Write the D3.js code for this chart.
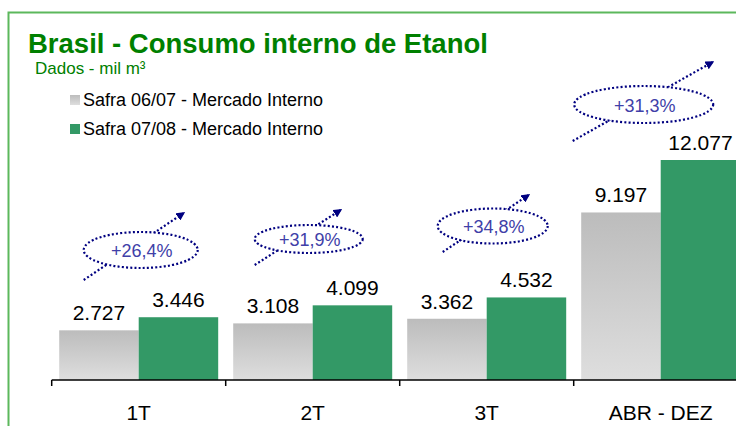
<!DOCTYPE html>
<html><head><meta charset="utf-8">
<script src="https://cdn.jsdelivr.net/npm/d3@7"></script>
<style>body{margin:0;background:#fff}svg{display:block;font-family:Arial,"Liberation Sans",sans-serif}</style>
</head><body><svg id="c" width="736" height="426"></svg>
<script>
const categories = ["1T", "2T", "3T", "ABR - DEZ"];
const seriesNames = ["Safra 06/07 - Mercado Interno", "Safra 07/08 - Mercado Interno"];
const safra0607 = [2727, 3108, 3362, 9197];
const safra0708 = [3446, 4099, 4532, 12077];
const growthLabels = ["+26,4%", "+31,9%", "+34,8%", "+31,3%"];
const fmt = v => d3.format(",")(v).replace(/,/g, ".");

const svg = d3.select("#c");
const defs = svg.append("defs");
const g1 = defs.append("linearGradient").attr("id","gray").attr("x1",0).attr("y1",0).attr("x2",0).attr("y2",1);
g1.append("stop").attr("offset","0%").attr("stop-color","#bcbcbc");
g1.append("stop").attr("offset","100%").attr("stop-color","#dedede");
defs.append("marker").attr("id","arr").attr("viewBox","0 0 10 10").attr("refX",8).attr("refY",5)
  .attr("markerWidth",4).attr("markerHeight",4).attr("orient","auto").attr("markerUnits","strokeWidth")
  .append("path").attr("d","M0,0L10,5L0,10z").attr("fill","#000080");

// frame
svg.append("path").attr("d","M8.5,426V12.5H736").attr("fill","none").attr("stroke","#5cb85c").attr("stroke-width",2);

const x = d3.scaleBand().domain(categories).range([51.7, 51.7 + 174 * 4]).paddingInner(0).paddingOuter(0);
const y = d3.scaleLinear().domain([0, 12077]).range([380, 160]);
const inner = 7.5;
const bw = (x.bandwidth() - 2 * inner) / 2;

// bars
const cat = svg.selectAll("g.cat").data(categories).join("g").attr("class","cat");
cat.append("rect").attr("x", d => x(d) + inner).attr("width", bw)
  .attr("y", (d,i) => y(safra0607[i])).attr("height", (d,i) => y(0) - y(safra0607[i])).attr("fill","url(#gray)");
cat.append("rect").attr("x", d => x(d) + inner + bw).attr("width", bw)
  .attr("y", (d,i) => y(safra0708[i])).attr("height", (d,i) => y(0) - y(safra0708[i])).attr("fill","#339966");
cat.append("text").attr("x", d => x(d) + inner + bw/2).attr("y", (d,i) => y(safra0607[i]) - 10)
  .attr("text-anchor","middle").attr("font-size",21).attr("fill","#000").text((d,i) => fmt(safra0607[i]));
cat.append("text").attr("x", d => x(d) + inner + bw*1.5).attr("y", (d,i) => y(safra0708[i]) - 10)
  .attr("text-anchor","middle").attr("font-size",21).attr("fill","#000").text((d,i) => fmt(safra0708[i]));

// axis
const ax = svg.append("g").attr("transform","translate(0,380)");
ax.append("line").attr("x1", 51.7).attr("x2", 736).attr("stroke","#000").attr("stroke-width",1.5);
ax.selectAll("line.tk").data(d3.range(categories.length + 1)).join("line").attr("class","tk")
  .attr("x1", i => 51.7 + i * x.bandwidth()).attr("x2", i => 51.7 + i * x.bandwidth())
  .attr("y1",0).attr("y2",6).attr("stroke","#000").attr("stroke-width",1.5);
ax.selectAll("text").data(categories).join("text").attr("x", d => x(d) + x.bandwidth()/2).attr("y", 40)
  .attr("text-anchor","middle").attr("font-size",21).attr("fill","#000").text(d => d);

// annotations (ellipse geometry per category, relative to category center)
const ann = [
  {dx: 2, cy: 250, rx: 57, ry: 18, x1: -55, y1: 280, x2: 45, y2: 213},
  {dx: -4, cy: 239, rx: 54, ry: 14, x1: -58, y1: 265, x2: 28, y2: 210},
  {dx: 6, cy: 226, rx: 55, ry: 17.5, x1: -44, y1: 252, x2: 42, y2: 195},
  {dx: -17, cy: 104.5, rx: 69.5, ry: 18.5, x1: -88, y1: 141, x2: 52, y2: 62}
];
const an = svg.selectAll("g.ann").data(categories).join("g").attr("class","ann");
an.append("line").attr("x1",(d,i)=>x(d)+x.bandwidth()/2+ann[i].x1).attr("y1",(d,i)=>ann[i].y1)
  .attr("x2",(d,i)=>x(d)+x.bandwidth()/2+ann[i].x2).attr("y2",(d,i)=>ann[i].y2)
  .attr("stroke","#000080").attr("stroke-width",2.2).attr("stroke-dasharray","2 2.2").attr("marker-end","url(#arr)");
an.append("ellipse").attr("cx",(d,i)=>x(d)+x.bandwidth()/2+ann[i].dx).attr("cy",(d,i)=>ann[i].cy)
  .attr("rx",(d,i)=>ann[i].rx).attr("ry",(d,i)=>ann[i].ry)
  .attr("fill","#fff").attr("stroke","#000080").attr("stroke-width",2.2).attr("stroke-dasharray","2 2.2");
an.append("text").attr("x",(d,i)=>x(d)+x.bandwidth()/2+ann[i].dx+1).attr("y",(d,i)=>ann[i].cy+7)
  .attr("text-anchor","middle").attr("font-size",18).attr("fill","#4040a8").text((d,i)=>growthLabels[i]);

// titles
svg.append("text").attr("x",28).attr("y",52.5).attr("font-size",27.5).attr("font-weight","bold")
  .attr("fill","#008000").text("Brasil - Consumo interno de Etanol");
svg.append("text").attr("x",35).attr("y",74).attr("font-size",17)
  .attr("fill","#008000").text("Dados - mil m³");

// legend
const colors = ["url(#gray)", "#339966"];
const lg = svg.selectAll("g.lg").data(seriesNames).join("g").attr("class","lg")
  .attr("transform",(d,i)=>`translate(70,${95 + i*29})`);
lg.append("rect").attr("width",10).attr("height",10).attr("fill",(d,i)=>colors[i]);
lg.append("text").attr("x",13).attr("y",11).attr("font-size",18).attr("fill","#000").text(d=>d);
</script></body></html>
